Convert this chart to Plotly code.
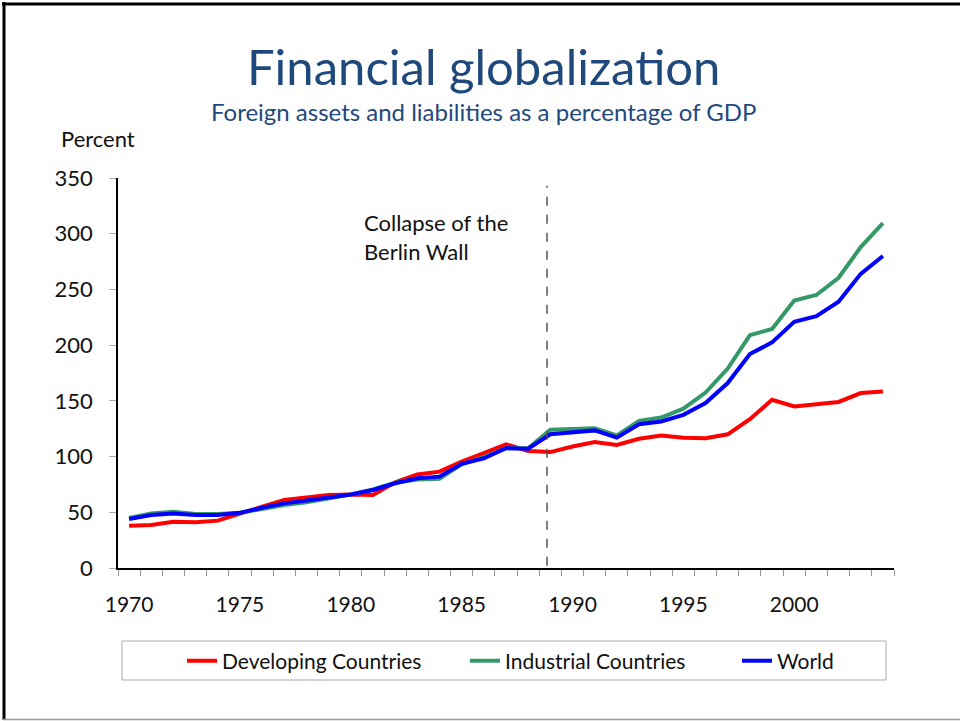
"""
Financial globalization line chart
"""

import plotly.graph_objects as go

# ---------- Data ----------

years = list(range(1970, 2005))

developing = [38, 38.5, 41.5, 41, 42.5, 49, 55, 61, 63.5, 65.5,
              66, 65.5, 77, 84, 86.5, 95.5, 103, 111, 105, 104,
              109, 113, 110.5, 116, 119, 117, 116.5, 120, 133.5, 151,
              145, 147, 149, 157, 158.5]

industrial = [45, 49, 50.5, 48.5, 48.5, 49.5, 53, 56.5, 59, 62.5,
              66, 70.5, 76.5, 79.5, 80, 93, 99.5, 107.5, 107.5, 124,
              124.5, 125.5, 119, 132, 135, 143, 157.5, 179, 209, 214.5,
              240, 245, 260.5, 288, 309.5]

world = [44, 47.5, 49, 47.5, 47.5, 49.5, 54, 58, 60.5, 63.5,
         66, 70, 76, 80.5, 82, 93.5, 98.5, 107.5, 107, 120,
         121.5, 123.5, 117, 129, 131.5, 137.5, 148, 166, 192, 202.5,
         221, 226, 239, 264, 280]

series_names = ["Developing Countries", "Industrial Countries", "World"]

berlin_wall_x = 1988.85

# ---------- Styling ----------

FONT = "Lato, 'Open Sans', sans-serif"
TITLE_BLUE = "#1F497D"
COLORS = ["#FF0000", "#339966", "#0000FF"]

# plot area in page pixels (body margin is removed below)
L, R, T, B = 118, 894, 178, 568
W, H = 960, 721


def px_x(p):
    return (p - L) / (R - L)


def px_y(p):
    return (B - p) / (B - T)


fig = go.Figure()

legend_ids = ["legend", "legend2", "legend3"]
legend_xs = [182, 465, 737]

for name, vals, color, lid in zip(series_names, [developing, industrial, world],
                                  COLORS, legend_ids):
    fig.add_trace(go.Scatter(
        x=years, y=vals, name=name, mode="lines",
        line=dict(color=color, width=4), legend=lid,
    ))

fig.add_shape(type="line", xref="x", yref="y",
              x0=berlin_wall_x, x1=berlin_wall_x, y0=2, y1=343,
              line=dict(color="#555555", width=1.5, dash="dash"))

fig.add_annotation(x=px_x(362), y=px_y(237), xref="paper", yref="paper",
                   text="Collapse of the<br>Berlin Wall", showarrow=False,
                   xanchor="left", yanchor="middle", align="left",
                   font=dict(family=FONT, size=22, color="#111111"))

# titles
fig.add_annotation(x=px_x(483), y=px_y(66), xref="paper", yref="paper",
                   text="Financial globalization", showarrow=False,
                   xanchor="center", yanchor="middle",
                   font=dict(family=FONT, size=49, color=TITLE_BLUE))
fig.add_annotation(x=px_x(483), y=px_y(112), xref="paper", yref="paper",
                   text="Foreign assets and liabilities as a percentage of GDP",
                   showarrow=False, xanchor="center", yanchor="middle",
                   font=dict(family=FONT, size=24, color=TITLE_BLUE))
fig.add_annotation(x=px_x(59), y=px_y(139), xref="paper", yref="paper",
                   text="Percent", showarrow=False,
                   xanchor="left", yanchor="middle",
                   font=dict(family=FONT, size=22, color="#111111"))

# legend box
fig.add_shape(type="rect", xref="paper", yref="paper",
              x0=px_x(122), x1=px_x(886), y0=px_y(641), y1=px_y(680),
              line=dict(color="#AAAAAA", width=1))

# slide frame
fig.add_shape(type="line", xref="paper", yref="paper",
              x0=px_x(4), x1=px_x(4), y0=px_y(2), y1=px_y(720),
              line=dict(color="black", width=3))
fig.add_shape(type="line", xref="paper", yref="paper",
              x0=px_x(2), x1=px_x(960), y0=px_y(4), y1=px_y(4),
              line=dict(color="black", width=3))
fig.add_shape(type="line", xref="paper", yref="paper",
              x0=px_x(3), x1=px_x(960), y0=px_y(719.5), y1=px_y(719.5),
              line=dict(color="#999999", width=1.5))

legend_common = dict(
    orientation="h", xanchor="left", yanchor="middle",
    itemwidth=30,
    font=dict(family=FONT, size=21, color="#111111"),
    bgcolor="rgba(0,0,0,0)", borderwidth=0,
)

fig.update_layout(
    width=W, height=H,
    margin=dict(l=L, r=W - R, t=T, b=H - B),
    paper_bgcolor="white",
    plot_bgcolor="white",
    font=dict(family=FONT, size=22, color="#111111"),
    showlegend=True,
    legend=dict(x=px_x(legend_xs[0]), y=px_y(661), **legend_common),
    legend2=dict(x=px_x(legend_xs[1]), y=px_y(661), **legend_common),
    legend3=dict(x=px_x(legend_xs[2]), y=px_y(661), **legend_common),
)

fig.update_xaxes(
    range=[1969.5, 2004.5],
    tickmode="linear", tick0=1970, dtick=5,
    ticks="", showgrid=False, zeroline=False,
    showline=True, linecolor="black", linewidth=1.5,
    tickfont=dict(size=21),
    ticklabelstandoff=17,
    minor=dict(tickmode="linear", tick0=1969.5, dtick=1,
               ticks="outside", ticklen=6, tickcolor="#999999",
               showgrid=False),
)

fig.update_yaxes(
    range=[0, 350],
    tickmode="linear", tick0=0, dtick=50,
    ticks="outside", ticklen=7, tickcolor="#AAAAAA",
    showgrid=False, zeroline=False,
    showline=True, linecolor="black", linewidth=1.5,
    ticklabelstandoff=12,
)

# drop the default body margin so the figure sits at the page corner
fig.write_html("out.html",
               config={"displayModeBar": False},
               post_script="document.body.style.margin = '0';")
